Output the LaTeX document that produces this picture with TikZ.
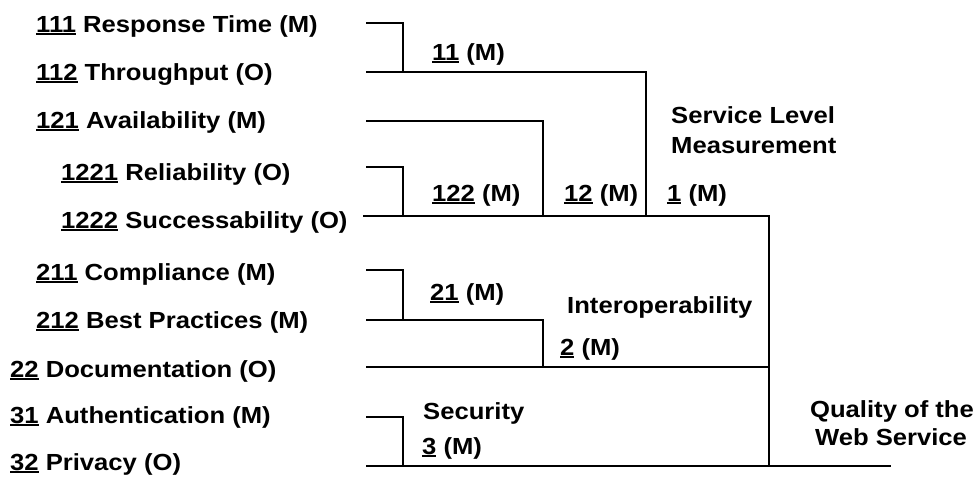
\documentclass[tikz,border=0pt]{standalone}
\usepackage{fontspec}
\setmainfont{Liberation Sans}[FakeStretch=1.1]
\newcommand\unum[1]{\setbox0=\hbox{#1}\rlap{\rule[-3.3pt]{\wd0}{2pt}}\box0\relax}
\tikzset{
  lbl/.style={anchor=base west, inner sep=0pt, font=\fontsize{23.3}{29}\selectfont\bfseries},
  clbl/.style={anchor=base, inner sep=0pt, font=\fontsize{23.3}{29}\selectfont\bfseries},
  conn/.style={line width=2pt}
}
\begin{document}
\begin{tikzpicture}[x=1pt,y=-1pt]
\useasboundingbox (0,0) rectangle (976,479);
% left labels
\node[lbl] (n111) at (36,32) {\unum{111} Response Time (M)};
\node[lbl] (n112) at (36,80) {\unum{112} Throughput (O)};
\node[lbl] (n121) at (36,128) {\unum{121} Availability (M)};
\node[lbl] (n1221) at (61,180) {\unum{1221} Reliability (O)};
\node[lbl] (n1222) at (61,228) {\unum{1222} Successability (O)};
\node[lbl] (n211) at (36,280) {\unum{211} Compliance (M)};
\node[lbl] (n212) at (36,328) {\unum{212} Best Practices (M)};
\node[lbl] (n22) at (10,377) {\unum{22} Documentation (O)};
\node[lbl] (n31) at (10,423) {\unum{31} Authentication (M)};
\node[lbl] (n32) at (10,470) {\unum{32} Privacy (O)};
% right labels
\node[lbl] (l11) at (432,60) {\unum{11} (M)};
\node[lbl] (sl1) at (671,123) {Service Level};
\node[lbl] (sl2) at (671,153) {Measurement};
\node[lbl] (l122) at (432,201) {\unum{122} (M)};
\node[lbl] (l12) at (564,201) {\unum{12} (M)};
\node[lbl] (l1) at (667,201) {\unum{1} (M)};
\node[lbl] (l21) at (430,300) {\unum{21} (M)};
\node[lbl] (io) at (567,313) {Interoperability};
\node[lbl] (l2) at (560,355) {\unum{2} (M)};
\node[lbl] (sec) at (423,419) {Security};
\node[lbl] (l3) at (422,454) {\unum{3} (M)};
\node[clbl] (q1) at (892,417) {Quality of the};
\node[clbl] (q2) at (891,445) {Web Service};
% junction coordinates
\coordinate (s111) at (366,23);  \coordinate (j11a) at (403,23);
\coordinate (s112) at (366,72);  \coordinate (j11) at (403,72);
\coordinate (j1a) at (646,72);   \coordinate (j1) at (646,216);
\coordinate (s121) at (366,121); \coordinate (j12a) at (543,121); \coordinate (j12) at (543,216);
\coordinate (s1221) at (366,167); \coordinate (j122a) at (403,167); \coordinate (j122) at (403,216);
\coordinate (s1222) at (363,216); \coordinate (jr1) at (769,216);
\coordinate (s211) at (366,270); \coordinate (j21a) at (403,270); \coordinate (j21) at (403,320);
\coordinate (s212) at (366,320); \coordinate (j2a) at (543,320); \coordinate (j2) at (543,367);
\coordinate (s22) at (366,367);  \coordinate (jr2) at (769,367);
\coordinate (s31) at (366,417);  \coordinate (j3a) at (403,417); \coordinate (j3) at (403,466);
\coordinate (s32) at (366,466);  \coordinate (jr3) at (769,466); \coordinate (root) at (891,466);
% connectors
\draw[conn] (s111) -- (j11a) -- (j11);
\draw[conn] (s112) -- (j1a) -- (j1);
\draw[conn] (s121) -- (j12a) -- (j12);
\draw[conn] (s1221) -- (j122a) -- (j122);
\draw[conn] (s1222) -- (jr1) -- (jr3);
\draw[conn] (s211) -- (j21a) -- (j21);
\draw[conn] (s212) -- (j2a) -- (j2);
\draw[conn] (s22) -- (jr2);
\draw[conn] (s31) -- (j3a) -- (j3);
\draw[conn] (s32) -- (root);
\end{tikzpicture}
\end{document}
